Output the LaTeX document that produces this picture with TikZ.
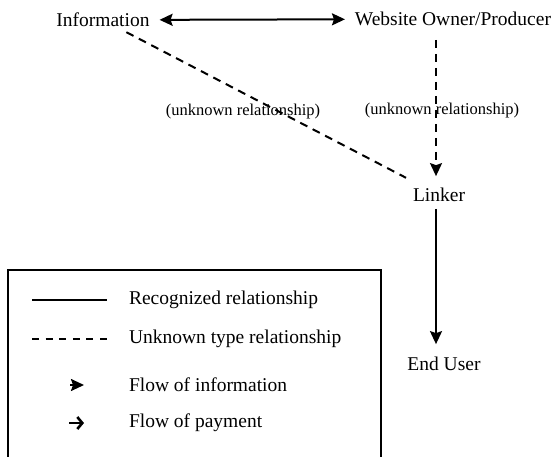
\documentclass[tikz,border=0pt]{standalone}
\usepackage{fontspec}
\setmainfont{Liberation Serif}
\usetikzlibrary{arrows.meta}

\begin{document}
\begin{tikzpicture}[x=1pt, y=-1pt, >={Stealth[length=13pt,width=12pt,inset=2pt]}, line width=2pt]
        \tikzstyle{party}=[inner sep=1pt, font=\fontsize{19.5}{22}\selectfont]
        \tikzstyle{relation}=[inner sep=1pt, font=\fontsize{16.5}{19}\selectfont]
        \tikzstyle{key}=[anchor=west, inner sep=0pt, font=\fontsize{19.5}{22}\selectfont]
        \tikzstyle{unknown}=[dash pattern=on 8pt off 6pt]

        \useasboundingbox (0,0) rectangle (556,457);

        \node[party](info) at (103,20){Information};
        \node[party](owner) at (453,19){Website Owner/Producer};
        \node[party](linker) at (439,195){Linker};
        \node[party](user) at (444,364){End User};

        \node[relation](rel1) at (243,112){(unknown relationship)};
        \node[relation](rel2) at (442,111){(unknown relationship)};

        \draw[<->, shorten <=8pt, shorten >=8pt] (info) -- (owner);
        \draw[unknown, shorten <=7pt, shorten >=18pt] (info) -- (linker);
        \draw[->, unknown, shorten <=12pt, shorten >=10pt] (owner.south -| 436,0) -- (linker.north -| 436,0);
        \draw[->, shorten <=5pt, shorten >=11pt] (linker.south -| 436,0) -- (user.north -| 436,0);

        % legend
        \draw[line width=1.5pt] (8,470) -- (8,270) -- (381,270) -- (381,470);

        \coordinate (solidA) at (32,300);
        \coordinate (solidB) at (107,300);
        \coordinate (dashA) at (32,339);
        \coordinate (dashB) at (107,339);
        \coordinate (infoA) at (70,385);
        \coordinate (infoB) at (84,385);
        \coordinate (payA) at (69,423);
        \coordinate (payB) at (84,423);

        \draw (solidA) -- (solidB);
        \draw[dash pattern=on 7pt off 6.6pt] (dashA) -- (dashB);
        \draw[->] (infoA) -- (infoB);
        \draw[line width=2.6pt, -{Straight Barb[length=5pt,width=12pt]}] (payA) -- (payB);

        \node[key](solidKey) at (128,300){Recognized relationship};
        \node[key](dashKey) at (128,339){Unknown type  relationship};
        \node[key](infoKey) at (128,385){Flow of information};
        \node[key](payKey) at (128,423){Flow of payment};

        \end{tikzpicture}
\end{document}
